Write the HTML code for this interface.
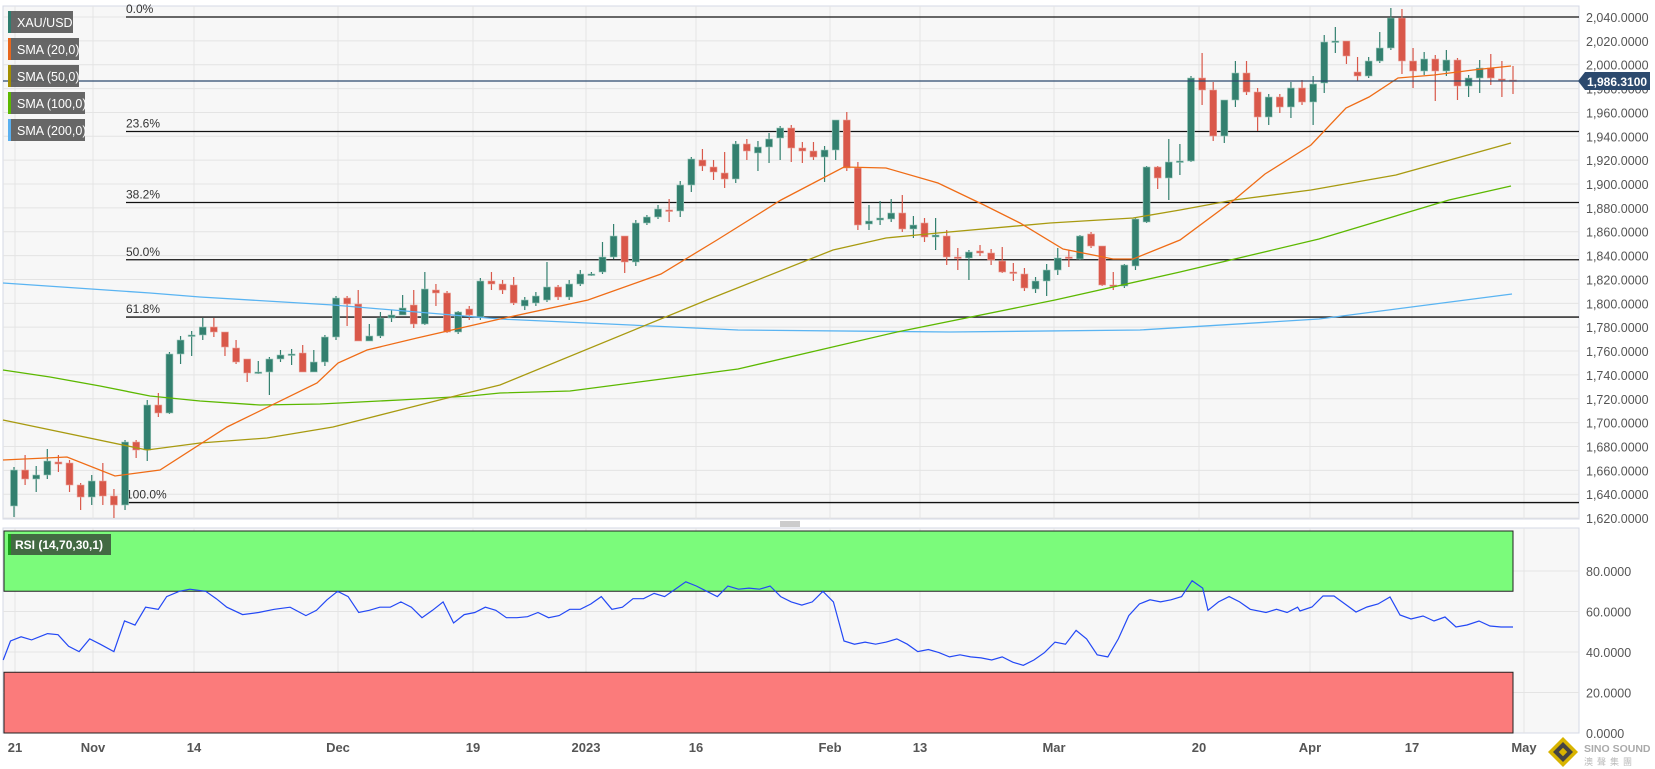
<!DOCTYPE html>
<html><head><meta charset="utf-8"><style>
html,body{margin:0;padding:0;background:#fff;width:1655px;height:769px;overflow:hidden;font-family:"Liberation Sans",sans-serif}
svg{display:block}
</style></head><body>
<svg id="s" width="1655" height="769" xmlns="http://www.w3.org/2000/svg" font-family="Liberation Sans, sans-serif"></svg>
<script>
const s=document.getElementById('s');let h='';
const yP=p=>17+(2040-p)*1.193;
const yR=v=>733-v*2.025;
h+='<rect x="3" y="6" width="1576" height="513" fill="#f7f7f7" stroke="#d4d8e6"/>';
h+='<rect x="3" y="528" width="1576" height="205" fill="#f7f7f7" stroke="#d4d8e6"/>';
const gx=[15,93,194,338,473,586,696,830,920,1054,1199,1310,1412,1524];
gx.forEach(x=>{h+=`<line x1="${x}" y1="6" x2="${x}" y2="519" stroke="#e4e4e4"/><line x1="${x}" y1="528" x2="${x}" y2="733" stroke="#e4e4e4"/>`});
for(let p=1620;p<=2040;p+=20){const y=yP(p);h+=`<line x1="3" y1="${y}" x2="1579" y2="${y}" stroke="#e4e4e4"/><text x="1586" y="${y+5}" font-size="12.5" fill="#555">${p.toLocaleString('en-US')}.0000</text>`;}
for(let v=0;v<=80;v+=20){const y=yR(v);if(v>0)h+=`<line x1="3" y1="${y}" x2="1579" y2="${y}" stroke="#e4e4e4"/>`;h+=`<text x="1586" y="${y+5}" font-size="12.5" fill="#555">${v.toFixed(4)}</text>`;}
h+=`<rect x="4" y="531" width="1509" height="${yR(70)-531}" fill="#7bfb7b" stroke="#222"/>`;
h+=`<rect x="4" y="${yR(30)}" width="1509" height="${733-yR(30)}" fill="#fb7b7b" stroke="#222"/>`;
[[2040,'0.0%'],[1944,'23.6%'],[1884.5,'38.2%'],[1836.5,'50.0%'],[1788.5,'61.8%'],[1633,'100.0%']].forEach(([p,t])=>{const y=yP(p);h+=`<line x1="126" y1="${y}" x2="1579" y2="${y}" stroke="#111" stroke-width="1.3"/><text x="126" y="${y-4}" font-size="12" fill="#333">${t}</text>`;});
const C=[
['G',470,506,467,517],['R',470,479,455,485],['G',475,479,466,492],['G',461,475,449,479],['R',462,464,455,472],['R',463,485,460,492],['R',485,497,483,510],['G',481,497,475,505],['R',481,496,463,505],['R',496,505,489,518],
['G',442,505,440,510],['R',442,450,440,458],['G',405,450,400,461],['R',405,413,393,417],['G',354,413,352,414],['G',340,354,336,364],['G',335,336,331,356],['G',327,335,318,340],['R',327,332,318,337],['R',332,347,332,356],
['R',348,362,340,364],['R',359,373,359,382],['G',372,373,361,374],['G',359,372,357,395],['G',355,359,350,362],['G',354,355,349,365],['R',353,372,345,372],['G',362,372,350,372],['G',337,362,335,366],['G',298,337,296,340],
['R',298,304,296,326],['R',304,341,290,341],['G',336,341,324,339],['G',318,336,312,338],['G',315,318,310,322],['G',308,315,295,315],['R',305,324,290,328],['G',289,324,272,325],['R',290,293,284,306],['R',293,332,291,333],
['G',312,332,311,334],['R',309,315,306,320],['G',281,317,278,320],['R',281,284,272,290],['R',284,290,280,294],['R',285,303,277,305],['G',300,306,297,310],['G',296,303,292,306],
['G',287,300,262,302],['R',287,297,285,300],['G',284,297,280,300],['G',274,284,270,286],['G',274,275,272,276],['G',257,272,242,274],['G',236,257,224,259],['R',236,262,236,273],['G',223,262,220,266],['G',217,223,215,225],
['G',209,217,205,219],['R',210,211,199,222],['G',185,211,181,217],['G',159,185,157,192],['R',160,166,149,171],['R',167,172,160,180],['R',173,179,152,188],['G',144,179,141,183],['R',144,151,139,160],['G',147,153,141,171],
['G',139,147,133,163],['G',128,138,126,160],['R',128,148,125,162],['R',148,151,142,163],['R',151,157,142,160],['G',150,157,146,182],['G',120,150,120,160],['R',120,168,112,171],['R',168,225,162,230],['G',221,224,205,230],
['G',218,220,201,225],['G',213,219,199,222],['R',213,229,195,232],['G',225,229,216,238],['R',223,237,218,242],['G',235,237,218,250],['R',236,257,230,265],['R',257,258,248,270],['G',252,258,250,280],['R',251,253,245,256],
['R',253,260,249,265],['R',261,272,247,273],['R',272,273,263,281],['R',274,288,268,291],['G',281,289,277,293],
['G',270,281,264,296],['G',258,270,248,275],['R',257,258,250,267],['G',236,259,235,260],['R',234,246,232,248],['R',246,285,246,286],['R',285,286,272,290],['G',265,286,264,288],['G',219,266,218,270],['G',167,222,166,223],
['R',167,178,166,189],['G',162,178,139,200],['G',161,162,144,175],
['G',78,161,76,162],['R',78,90,53,105],['R',90,136,82,141],['G',100,136,100,143],['G',73,100,61,107],['R',73,92,61,95],['R',92,117,88,131],['G',97,117,94,125],['R',97,107,94,113],['G',88,107,82,118],
['R',88,102,80,105],['G',84,102,76,125],['G',42,83,35,93],['G',41,42,27,53],['R',41,56,41,64],['R',72,76,57,81],['G',61,76,57,78],['G',48,61,32,63],['G',18,48,8,50],['R',18,61,9,74],
['R',61,71,48,88],['G',59,71,52,75],['R',59,71,55,101],['G',60,71,50,76],['R',60,86,58,100],['G',78,86,75,97],['G',68,78,60,93],['R',68,78,54,85],['R',79,80,61,97],['R',80,81,66,94]];
const n=C.length;
C.forEach((c,i)=>{const x=14+i*(1499/(n-1));const col=c[0]=='G'?'#33806f':'#d9584a';
h+=`<line x1="${x}" y1="${c[3]}" x2="${x}" y2="${c[4]}" stroke="${col}" stroke-width="1.2"/><rect x="${x-3.5}" y="${c[1]}" width="7" height="${Math.max(1.5,c[2]-c[1])}" fill="${col}" stroke="${c[0]=='G'?'#9cc8bb':'#eaa49c'}" stroke-width="0.6"/>`;});
function pl(pts,col,w){h+=`<polyline fill="none" stroke="${col}" stroke-width="${w||1.3}" points="${pts.map(p=>p.join(',')).join(' ')}"/>`;}
pl([[3,283],[150,293],[200,297],[333,305],[500,319],[738,330],[950,332],[1140,330],[1319,319],[1512,294]],'#5ab4f2');
pl([[3,370],[50,377],[100,386],[150,396],[200,401],[260,405],[320,404],[400,400],[470,396],[500,393],[570,391],[738,369],[897,332],[1055,300],[1180,272],[1319,239],[1449,200],[1511,186]],'#5cb800');
pl([[3,420],[147,450],[200,443],[267,438],[333,427],[400,410],[467,393],[500,385],[707,300],[833,250],[886,238],[938,233],[1050,223],[1133,218],[1180,210],[1234,200],[1311,190],[1396,175],[1511,143]],'#a89a10');
pl([[3,460],[67,457],[115,476],[160,470],[227,427],[317,383],[338,363],[367,350],[417,338],[500,319],[588,300],[661,274],[717,240],[781,200],[844,167],[886,168],[938,183],[984,205],[1020,223],[1063,249],[1113,259],[1133,259],[1180,240],[1234,200],[1265,174],[1311,145],[1346,108],[1369,97],[1398,78],[1434,75],[1473,70],[1511,66]],'#ef6c16');
h+='<line x1="3" y1="81" x2="1579" y2="81" stroke="#2c4a6e" stroke-width="1.2"/>';
h+='<polygon points="1578,81 1585,72 1650,72 1650,90 1585,90" fill="#2c4a6e"/><text x="1587" y="86" font-size="12" font-weight="bold" fill="#fff">1,986.3100</text>';
const R=[[3,625],[10,607],[20,603],[30,606],[45,600],[55,601],[65,612],[75,617],[85,605],[95,610],[108,617],[118,588],[128,592],[138,575],[150,577],[158,565],[170,560],[180,558],[195,560],[205,567],[215,575],[230,582],[245,580],[260,577],[275,575],[290,583],[300,578],[310,568],[320,560],[330,565],[340,580],[350,578],[360,575],[370,575],[380,570],[390,575],[400,585],[410,578],[420,570],[430,590],[440,582],[450,580],[460,575],[470,578],[480,585],[490,585],[500,584],[510,580],[520,585],[530,583],[540,577],[550,577],[560,572],[570,565],[580,577],[590,575],[600,567],[610,567],[620,562],[630,565],[640,558],[650,551],[660,555],[670,560],[680,565],[690,555],[700,558],[710,557],[720,558],[730,555],[740,565],[750,570],[760,573],[770,570],[780,560],[790,570],[800,607],[810,610],[820,608],[830,610],[840,608],[850,605],[860,610],[870,617],[880,615],[890,618],[900,622],[910,620],[920,622],[930,623],[940,625],[950,622],[960,627],[970,630],[980,625],[990,618],[1000,608],[1010,610],[1020,597],[1030,605],[1040,620],[1050,622],[1060,605],[1070,583],[1080,572],[1090,568],[1100,570],[1110,568],[1120,565],[1130,550],[1140,557],[1145,578],[1155,570],[1165,565],[1175,570],[1185,577],[1200,580],[1210,577],[1220,580],[1230,575]].map(([x,y])=>[(x*1.055).toFixed(1),(733-(694-y)*1.0574).toFixed(1)]);
[[1300,611],[1312,607],[1323,596],[1334,596],[1345,604],[1356,612],[1367,607],[1378,604],[1390,597],[1400,615],[1411,619],[1423,616],[1434,621],[1445,617],[1456,627],[1467,625],[1479,621],[1490,626],[1501,627],[1513,627]].forEach(p=>R.push(p));
pl(R,'#2348f5',1.2);
[['XAU/USD','#2e7d6f',65],['SMA (20,0)','#e8661d',71],['SMA (50,0)','#a38f00',71],['SMA (100,0)','#5cb800',77],['SMA (200,0)','#5ab0f0',77]].forEach(([t,c,w],i)=>{const y=11+i*27;h+=`<rect x="8" y="${y}" width="${w}" height="22" fill="#5f5f5f" opacity="0.95"/><rect x="8" y="${y}" width="3" height="22" fill="${c}"/><text x="17" y="${y+16}" font-size="12.5" fill="#fff">${t}</text>`;});
h+='<rect x="8" y="534" width="103" height="21" fill="#3d5a3d" opacity="0.9"/><rect x="8" y="534" width="3" height="21" fill="#1a9e1a"/><text x="15" y="549" font-size="12" font-weight="bold" fill="#fff">RSI (14,70,30,1)</text>';
h+='<line x1="780" y1="522" x2="800" y2="522" stroke="#999"/><line x1="780" y1="524" x2="800" y2="524" stroke="#999"/><line x1="780" y1="526" x2="800" y2="526" stroke="#999"/>';
[['21',15],['Nov',93],['14',194],['Dec',338],['19',473],['2023',586],['16',696],['Feb',830],['13',920],['Mar',1054],['20',1199],['Apr',1310],['17',1412],['May',1524]].forEach(([t,x])=>{h+=`<text x="${x}" y="752" font-size="13" font-weight="bold" fill="#555" text-anchor="middle">${t}</text>`;});
h+='<polygon points="1563,737 1578,752 1563,767 1548,752" fill="#d8b400"/><polygon points="1563,742 1573,752 1563,762 1553,752" fill="#444"/><rect x="1560" y="749" width="6" height="6" fill="#d8b400" transform="rotate(45 1563 752)"/>';
h+='<text x="1584" y="752" font-size="10.5" font-weight="bold" fill="#aaa">SINO SOUND</text><text x="1584" y="765" font-size="9" fill="#bbb" letter-spacing="4">澳聲集團</text>';
s.innerHTML=h;
</script>
</body></html>
